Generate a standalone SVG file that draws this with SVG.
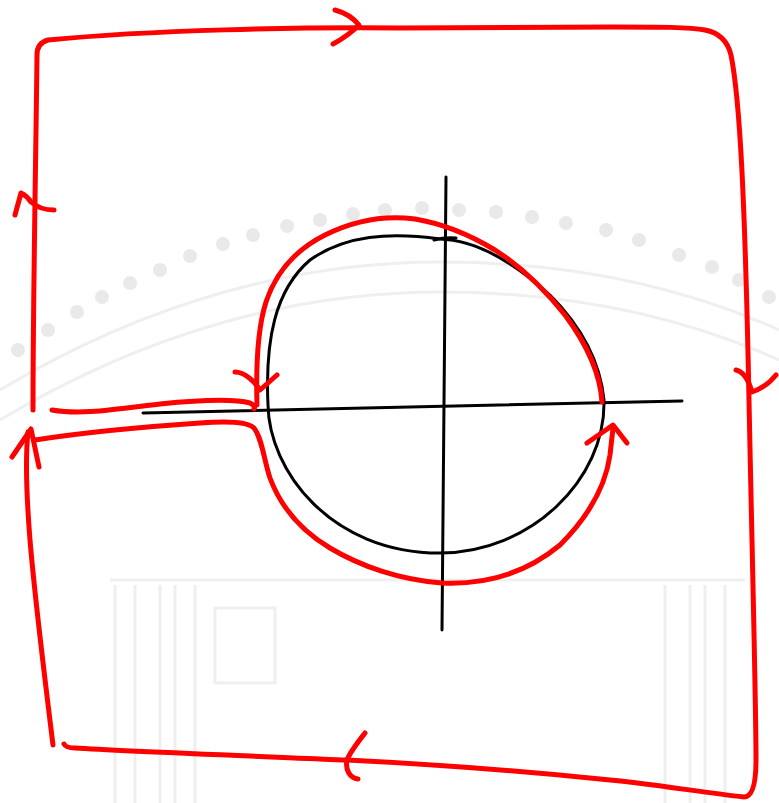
<svg xmlns="http://www.w3.org/2000/svg" width="779" height="803" viewBox="0 0 779 803">
<style>
.red{fill:none;stroke:#ff0000;stroke-width:5;stroke-linecap:round;stroke-linejoin:round}
.blk{fill:none;stroke:#000;stroke-width:3;stroke-linecap:round;stroke-linejoin:round}
.wm{fill:#e9e9e9}
.wml{fill:none;stroke:#efefef;stroke-width:3}
</style>
<rect width="779" height="803" fill="#fff"/>
<g id="watermark">
<g class="wm">
<circle cx="18" cy="350" r="7"/><circle cx="48" cy="330" r="7"/><circle cx="77" cy="312" r="7"/><circle cx="102" cy="297" r="7"/><circle cx="130" cy="283" r="7"/><circle cx="160" cy="270" r="7"/><circle cx="190" cy="256" r="7"/><circle cx="223" cy="244" r="7"/><circle cx="253" cy="235" r="7"/><circle cx="287" cy="226" r="7"/><circle cx="320" cy="220" r="7"/><circle cx="353" cy="214" r="7"/><circle cx="385" cy="210" r="7"/><circle cx="422" cy="208" r="7"/><circle cx="459" cy="210" r="7"/><circle cx="496" cy="212" r="7"/><circle cx="532" cy="217" r="7"/><circle cx="566" cy="223" r="7"/><circle cx="606" cy="230" r="7"/><circle cx="639" cy="240" r="7"/><circle cx="679" cy="255" r="7"/><circle cx="712" cy="267" r="7"/><circle cx="739" cy="280" r="7"/><circle cx="769" cy="297" r="7"/>
</g>
<path class="wml" d="M0,390 C150,300 300,262 440,262 C580,262 690,290 779,330"/>
<path class="wml" d="M0,420 C150,330 300,292 440,292 C580,292 690,320 779,360"/>
<path class="wml" d="M110,580 L745,580 M115,585 L115,803 M135,585 L135,803 M160,585 L160,803 M175,585 L175,803 M195,585 L195,803 M665,585 L665,803 M690,585 L690,803 M705,585 L705,803 M725,585 L725,803"/>
<rect x="215" y="608" width="60" height="75" class="wml"/>
</g>
<g id="axes">
<path class="blk" d="M143,413 L682,401"/>
<path class="blk" d="M446,177 L442,630"/>
</g>
<g id="circle">
<path class="blk" d="M440,239 C480,240 520,268 550,295 C580,325 600,360 604,400 C606,480 530,553 440,553 C330,553 269,470 268,405 C265,340 275,290 310,260 C345,235 390,232 440,239 Z"/>
<path class="blk" d="M434,240 Q445,237 456,238"/>
</g>
<g id="connectors">
<path class="red" d="M33,410 C33,300 36,150 37,55 Q37,43 48,40 C150,30 300,27 400,28 L612,27 C660,27 690,27 705,30 Q726,34 731,55 C740,100 745,200 749,400 C752,550 756,700 756,760 Q756,797 744,797 C700,792 646,783 600,779 C540,773 450,765 347,760 C250,756 120,751 75,748 Q66,748 64,744"/>
<path class="red" d="M53,745 C45,680 35,600 30,540 C26,490 25,460 28,432"/>
<path class="red" d="M52,410 C80,415 110,410 160,404 C200,400 235,399 250,403 Q256,406 254,409"/>
<path class="red" d="M257,405 C256,370 257,330 266,302 C276,272 295,250 325,235 C355,220 385,215 415,219 C445,224 470,235 495,250 C520,266 545,290 565,315 C585,342 600,370 602,402"/>
<path class="red" d="M35,440 C80,433 140,427 200,423 C230,421 248,422 254,428 C262,438 264,460 270,478 C280,505 300,530 330,548 C360,566 400,580 442,583 C490,585 530,570 560,545 C585,520 605,490 610,455 L613,428"/>
<path class="red" d="M335,10 Q350,14 359,25 Q348,36 333,44"/>
<path class="red" d="M736,370 C745,372 750,385 752,392 C758,390 768,385 776,375"/>
<path class="red" d="M15,215 L21,193 Q27,196 31,202 Q40,210 54,210"/>
<path class="red" d="M12,457 L31,429 L39,467"/>
<path class="red" d="M365,733 C358,742 350,752 347,760 C345,770 350,778 358,779"/>
<path class="red" d="M235,372 C245,372 255,382 260,390 L277,375"/>
<path class="red" d="M587,443 L613,425 L627,443"/>
</g>
</svg>
